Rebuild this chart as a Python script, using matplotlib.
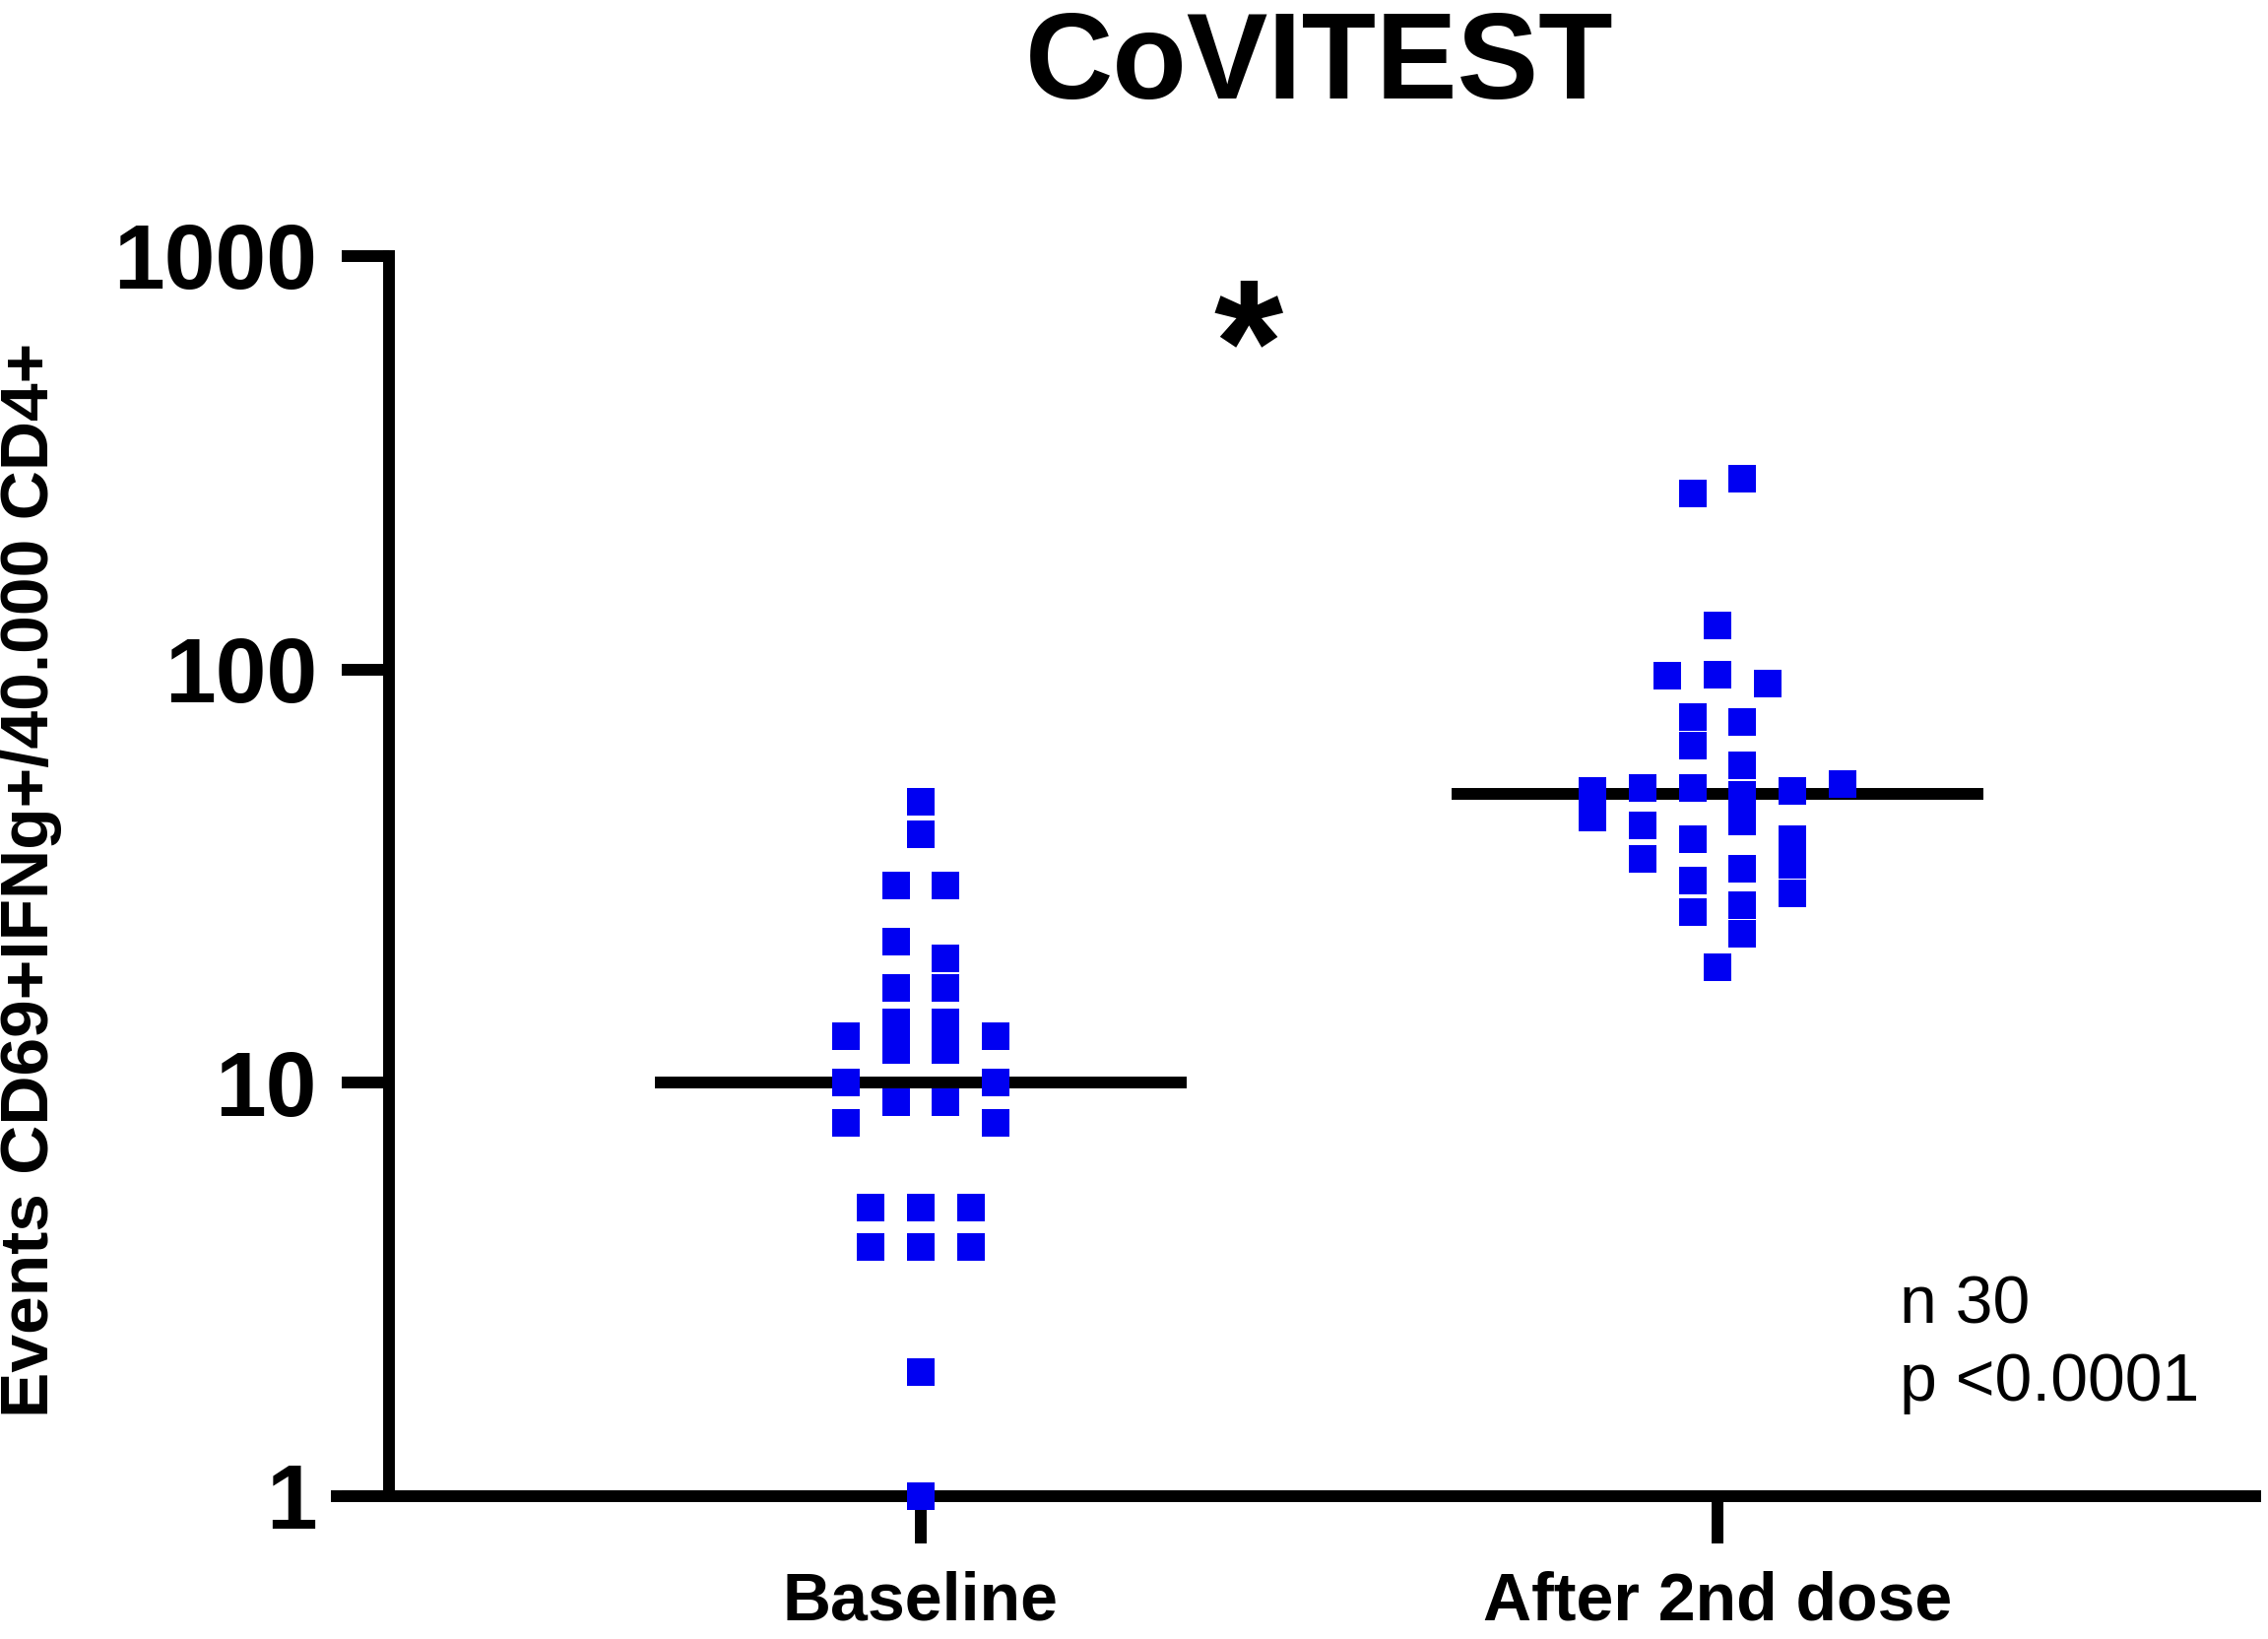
import matplotlib
matplotlib.use("Agg")
import matplotlib.pyplot as plt
from matplotlib.ticker import FixedLocator, NullLocator, FuncFormatter

plt.rcParams['font.family'] = ['Liberation Sans', 'DejaVu Sans']

# ---------------- data ----------------
groups = ["Baseline", "After 2nd dose"]

baseline_values = [47.8, 40, 30, 30, 22, 20, 17, 17, 14, 14, 13, 13, 12, 12,
                   10, 10, 9, 9, 8, 8, 5, 5, 5, 4, 4, 4, 2, 1]
baseline_slot = [0, 0, -1, 1, -1, 1, -1, 1, -1, 1, -3, 3, -1, 1,
                 -3, 3, -1, 1, -3, 3, -2, 0, 2, -2, 0, 2, 0, 0]

after_values = [289, 266, 128, 97.3, 96.5, 92.6, 76.6, 74.6, 65.4, 58.7,
                52.7, 51.8, 51.8, 50.9, 50.7, 49.7, 43.9, 42.9, 42.0,
                38.9, 38.9, 34.9, 33.7, 32.9, 30.8, 28.8, 26.9, 25.9, 22.9, 19.0]
after_slot = [1, -1, 0, 0, -2, 2, -1, 1, -1, 1,
              5, -3, -1, 3, -5, 1, -5, 1, -3,
              -1, 3, -3, 3, 1, -1, 3, 1, -1, 1, 0]

medians = [10, 50]
y_ticks = [1, 10, 100, 1000]
title = "CoVITEST"
y_label = "Events CD69+IFNg+/40.000 CD4+"
stats_lines = ["n 30", "p <0.0001"]
signif = "*"

# ---------------- style ----------------
W, H, DPI = 2303, 1664, 100
blue = "#0000F2"
lw = 8.6
slot_w = 0.0313
med_half = 0.334

fig = plt.figure(figsize=(W / DPI, H / DPI), dpi=DPI)
ax = fig.add_axes([342 / W, (H - 1519) / H, (2290 - 342) / W, (1519 - 260) / H])

ax.set_yscale("log")
ax.set_ylim(1, 1000)
ax.set_xlim(-0.733, 1.675)

# median lines
for gi, m in enumerate(medians):
    ax.hlines(m, gi - med_half, gi + med_half, color="black", lw=lw, zorder=2,
              capstyle="butt")

# points
for gi, (vals, slots) in enumerate([(baseline_values, baseline_slot),
                                     (after_values, after_slot)]):
    xs = [gi + s * slot_w for s in slots]
    ax.plot(xs, vals, linestyle="none", marker="s", ms=19.5, mew=0,
            color=blue, zorder=3, clip_on=False)

# spines
for s in ["top", "right"]:
    ax.spines[s].set_visible(False)
ax.spines["left"].set_position(("data", -0.6675))
for s in ["left", "bottom"]:
    ax.spines[s].set_linewidth(lw)
    ax.spines[s].set_color("black")
    ax.spines[s].set_capstyle("projecting")

ax.yaxis.set_major_locator(FixedLocator(y_ticks))
ax.yaxis.set_minor_locator(NullLocator())
ax.yaxis.set_major_formatter(FuncFormatter(lambda v, p: f"{int(round(v))}"))
ax.tick_params(axis="y", length=34.6, width=lw, pad=18, labelsize=67)
for t in ax.get_yticklabels():
    t.set_fontweight("bold")

ax.set_xticks(range(len(groups)))
ax.set_xticklabels(groups, fontsize=49, fontweight="bold")
ax.tick_params(axis="x", length=34.6, width=lw, pad=20)

fig.text(31 / W, (H - 893) / H, y_label, rotation=90, fontsize=50,
         fontweight="bold", ha="center", va="center")

fig.text(1340 / W, (H - 100) / H, title, fontsize=89, fontweight="bold",
         ha="center", va="baseline")

fig.text(1268 / W, (H - 362) / H, signif, fontsize=130, fontweight="bold",
         ha="center", va="center")

fig.text(1929 / W, (H - 1343) / H, stats_lines[0], fontsize=49,
         ha="left", va="baseline")
fig.text(1929 / W, (H - 1422) / H, stats_lines[1], fontsize=49,
         ha="left", va="baseline")

fig.savefig("out.png", dpi=DPI, facecolor="white")
